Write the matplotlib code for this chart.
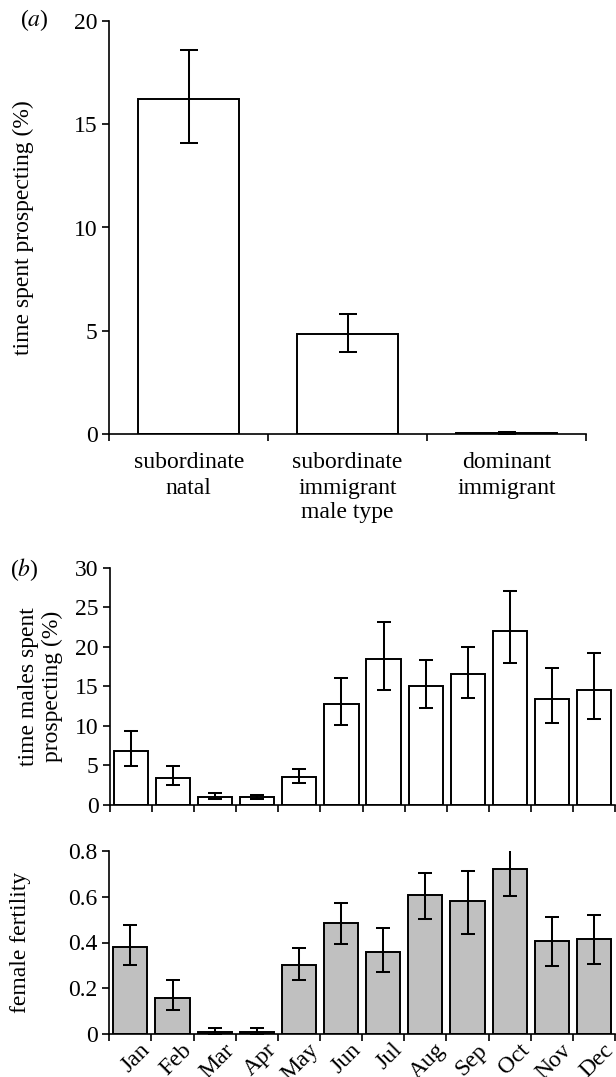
import matplotlib
matplotlib.use("Agg")
import matplotlib.pyplot as plt
from matplotlib.transforms import ScaledTranslation
import numpy as np

plt.rcParams['font.family'] = ['Liberation Serif', 'DejaVu Serif']
plt.rcParams['mathtext.fontset'] = 'stix'

# panel (a): time spent prospecting by male type
male_types = ['subordinate\nnatal', 'subordinate\nimmigrant', 'dominant\nimmigrant']
prospect_type = [16.2, 4.85, 0.03]
prospect_type_lo = [2.1, 0.88, 0.03]
prospect_type_hi = [2.4, 0.95, 0.05]

# panel (b): time males spent prospecting by month
months = ['Jan', 'Feb', 'Mar', 'Apr', 'May', 'Jun',
          'Jul', 'Aug', 'Sep', 'Oct', 'Nov', 'Dec']
prospect_month = [6.8, 3.4, 1.05, 1.05, 3.6, 12.7, 18.4, 15.0, 16.6, 22.0, 13.4, 14.5]
prospect_month_lo = [1.9, 0.85, 0.3, 0.3, 0.8, 2.6, 3.9, 2.8, 3.1, 4.1, 3.1, 3.6]
prospect_month_hi = [2.5, 1.5, 0.5, 0.25, 1.0, 3.3, 4.7, 3.3, 3.3, 5.0, 3.9, 4.7]

# panel (c): female fertility by month
fertility = [0.38, 0.157, 0.009, 0.009, 0.30, 0.485, 0.36, 0.606, 0.581, 0.721, 0.405, 0.414]
fertility_lo = [0.08, 0.052, 0.009, 0.009, 0.064, 0.09, 0.09, 0.105, 0.142, 0.116, 0.106, 0.108]
fertility_hi = [0.095, 0.079, 0.017, 0.017, 0.078, 0.089, 0.105, 0.099, 0.132, 0.088, 0.106, 0.105]

W, H = 616, 1077
FS = 17
fig = plt.figure(figsize=(W / 100, H / 100), dpi=100)


def px_axes(left, top, right, bottom):
    return fig.add_axes([left / W, 1 - bottom / H, (right - left) / W, (bottom - top) / H])


def style(ax):
    for s in ['top', 'right']:
        ax.spines[s].set_visible(False)
    for s in ['left', 'bottom']:
        ax.spines[s].set_linewidth(1.2)
    ax.tick_params(axis='y', direction='out', length=5.3, width=1.2, labelsize=FS, pad=3)
    ax.tick_params(axis='x', which='minor', direction='out', length=5.3, width=1.2)
    ax.tick_params(axis='x', which='major', length=0, labelsize=FS)


err_kw = dict(ecolor='black', elinewidth=1.45, capthick=1.45)

# ---- (a)
ax1 = px_axes(109.3, 21, 586, 434)
x1 = np.arange(len(male_types)) + 0.5
ax1.bar(x1, prospect_type, width=0.635, color='white', edgecolor='black', linewidth=1.4,
        yerr=[prospect_type_lo, prospect_type_hi], capsize=6.2, error_kw=err_kw)
ax1.set_xlim(0, 3)
ax1.set_ylim(0, 20)
ax1.set_yticks([0, 5, 10, 15, 20])
ax1.set_xticks(np.arange(0, 4), minor=True)
ax1.set_xticks(x1, male_types)
style(ax1)
ax1.tick_params(axis='x', which='major', pad=13)
for lab in ax1.get_xticklabels():
    lab.set_linespacing(1.28)
ax1.set_ylabel('time spent prospecting (%)', fontsize=FS)
ax1.yaxis.set_label_coords(-0.159, 0.5)
ax1.set_xlabel('male type', fontsize=FS)
ax1.xaxis.set_label_coords(0.5, -0.165)

# ---- (b)
ax2 = px_axes(110, 567.5, 615, 805)
x2 = np.arange(len(months)) + 0.5
ax2.bar(x2, prospect_month, width=0.81, color='white', edgecolor='black', linewidth=1.4,
        yerr=[prospect_month_lo, prospect_month_hi], capsize=5.0, error_kw=err_kw)
ax2.set_xlim(0, 12)
ax2.set_ylim(0, 30)
ax2.set_yticks([0, 5, 10, 15, 20, 25, 30])
ax2.set_xticks(np.arange(0, 13), minor=True)
ax2.set_xticks(x2, [''] * len(months))
ax2.set_ylabel('time males spent\nprospecting (%)', fontsize=FS, linespacing=1.2)
ax2.yaxis.set_label_coords(-0.093, 0.5)
style(ax2)

# ---- (c)
ax3 = px_axes(109.3, 851, 615, 1034)
ax3.bar(x2, fertility, width=0.81, color='#c0c0c0', edgecolor='black', linewidth=1.4,
        yerr=[fertility_lo, fertility_hi], capsize=5.2, error_kw=err_kw)
ax3.set_xlim(0, 12)
ax3.set_ylim(0, 0.8)
ax3.set_yticks([0, 0.2, 0.4, 0.6, 0.8], ['0', '0.2', '0.4', '0.6', '0.8'])
ax3.set_xticks(np.arange(0, 13), minor=True)
ax3.set_xticks(x2, months)
style(ax3)
ax3.tick_params(axis='x', which='major', pad=4)
shift = ScaledTranslation(9 / 100, 0, fig.dpi_scale_trans)
for lab in ax3.get_xticklabels():
    lab.set_rotation(45)
    lab.set_ha('right')
    lab.set_va('top')
    lab.set_rotation_mode('anchor')
    lab.set_transform(lab.get_transform() + shift)
ax3.set_ylabel('female fertility', fontsize=FS)
ax3.yaxis.set_label_coords(-0.154, 0.5)

fig.text(20 / W, 1 - 20 / H, r'($\mathit{a}$)', fontsize=FS, va='center', ha='left')
fig.text(10 / W, 1 - 570 / H, r'($\mathit{b}$)', fontsize=FS, va='center', ha='left')

fig.savefig('out.png', dpi=100)
